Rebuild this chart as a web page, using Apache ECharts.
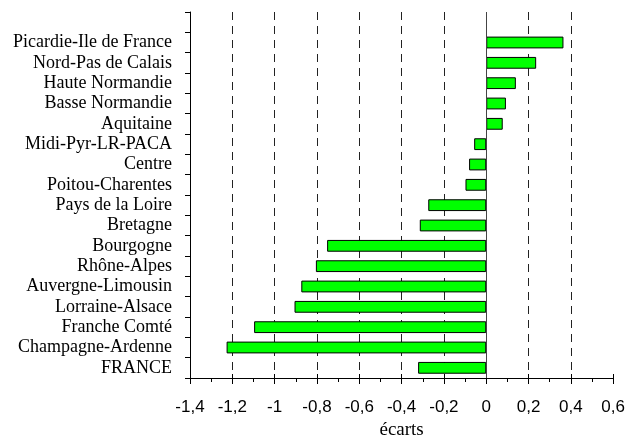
<!DOCTYPE html>
<html><head><meta charset="utf-8">
<script src="https://cdn.jsdelivr.net/npm/echarts@6/dist/echarts.min.js"></script>
<style>html,body{margin:0;padding:0;background:#fff}#c{width:628px;height:445px}</style>
</head><body><div id="c"></div>
<script>
const regions = ['Picardie-Ile de France','Nord-Pas de Calais','Haute Normandie','Basse Normandie','Aquitaine','Midi-Pyr-LR-PACA','Centre','Poitou-Charentes','Pays de la Loire','Bretagne','Bourgogne','Rhône-Alpes','Auvergne-Limousin','Lorraine-Alsace','Franche Comté','Champagne-Ardenne','FRANCE'];
const ecarts = [0.365,0.236,0.14,0.093,0.078,-0.057,-0.081,-0.098,-0.274,-0.314,-0.752,-0.805,-0.874,-0.906,-1.097,-1.227,-0.322];
const xMin = -1.4, xMax = 0.6, xStep = 0.2;
const axisTitle = 'écarts';

const cats = [''].concat(regions);
const vals = [null].concat(ecarts);
const fmt = v => { const r = Math.round(v*10)/10; return String(r).replace('.', ','); };

const chart = echarts.init(document.getElementById('c'));
chart.setOption({
  animation: false,
  grid: {left: 190, right: 13, top: 12, bottom: 62, containLabel: false},
  xAxis: [{
    type: 'value', min: xMin, max: xMax, interval: xStep, position: 'bottom',
    axisLine: {show: true, onZero: false, lineStyle: {color: '#000', width: 1}},
    axisTick: {show: true, length: 6, lineStyle: {color: '#000'}},
    minorTick: {show: true, splitNumber: 2, length: 4, lineStyle: {color: '#000'}},
    axisLabel: {color: '#000', fontFamily: 'Liberation Sans', fontSize: 17, margin: 21, formatter: fmt},
    splitLine: {show: true, showMinLine: false, showMaxLine: false, lineStyle: {color: '#222', type: [8, 6], width: 1}},
    name: axisTitle, nameLocation: 'middle', nameGap: 43,
    nameTextStyle: {color: '#000', fontFamily: 'Liberation Serif', fontSize: 19}
  }, {
    type: 'value', min: xMin, max: xMax, interval: xStep, position: 'bottom',
    axisLine: {show: false, onZero: false},
    axisTick: {show: true, inside: true, length: 4, lineStyle: {color: '#000'}},
    axisLabel: {show: false}, splitLine: {show: false}
  }],
  yAxis: {
    type: 'category', data: cats, inverse: true, boundaryGap: true,
    axisLine: {show: true, onZero: false, lineStyle: {color: '#000', width: 1}},
    axisTick: {show: true, length: 5, interval: 0, lineStyle: {color: '#000'}},
    axisLabel: {color: '#000', fontFamily: 'Liberation Serif', fontSize: 18, margin: 18, interval: 0},
    splitLine: {show: false}
  },
  series: [{
    type: 'bar', data: vals, barWidth: '58%', xAxisIndex: 0,
    itemStyle: {color: '#00ff00', borderColor: '#000', borderWidth: 1},
    markLine: {silent: true, symbol: 'none', label: {show: false},
      lineStyle: {color: '#444', type: 'solid', width: 1},
      data: [{xAxis: 0}]}
  }]
});
</script></body></html>
